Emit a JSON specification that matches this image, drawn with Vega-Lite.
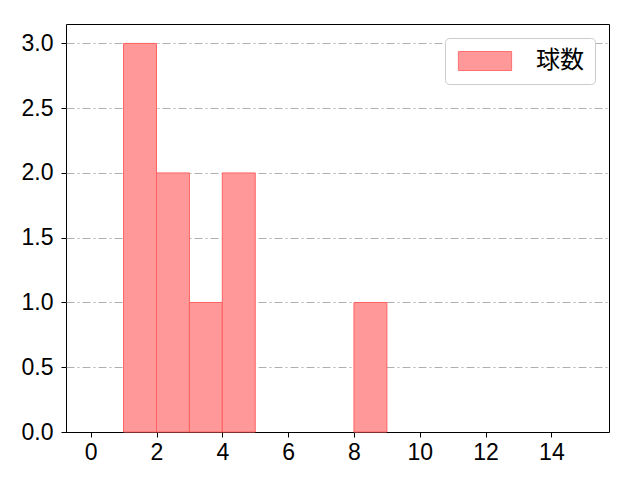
{
  "$schema": "https://vega.github.io/schema/vega-lite/v6.json",
  "width": 543,
  "height": 408,
  "autosize": "none",
  "padding": {"left": 66, "top": 24, "right": 31, "bottom": 48},
  "background": "white",
  "config": {
    "view": {"stroke": "black", "strokeWidth": 1},
    "font": "Liberation Sans",
    "axis": {
      "domain": false,
      "tickColor": "black",
      "tickSize": 5,
      "tickWidth": 1,
      "labelFont": "Liberation Sans",
      "labelFontSize": 23,
      "labelColor": "black",
      "labelPadding": 4,
      "labelFlush": false,
      "labelOverlap": false,
      "title": null
    }
  },
  "data": {
    "values": [
      {"bin_start": 1, "bin_end": 2, "count": 3, "series": "球数"},
      {"bin_start": 2, "bin_end": 3, "count": 2, "series": "球数"},
      {"bin_start": 3, "bin_end": 4, "count": 1, "series": "球数"},
      {"bin_start": 4, "bin_end": 5, "count": 2, "series": "球数"},
      {"bin_start": 8, "bin_end": 9, "count": 1, "series": "球数"}
    ]
  },
  "mark": {"type": "bar", "stroke": "#ff6060", "strokeWidth": 1},
  "encoding": {
    "x": {
      "field": "bin_start",
      "type": "quantitative",
      "scale": {"domain": [-0.75, 15.75], "nice": false, "zero": false},
      "axis": {"values": [0, 2, 4, 6, 8, 10, 12, 14], "grid": false}
    },
    "x2": {"field": "bin_end"},
    "y": {
      "field": "count",
      "type": "quantitative",
      "scale": {"domain": [0, 3.15], "nice": false},
      "axis": {
        "values": [0, 0.5, 1, 1.5, 2, 2.5, 3],
        "format": ".1f",
        "labelPadding": 8,
        "grid": true,
        "gridColor": {"condition": {"test": "datum.value === 0", "value": "black"}, "value": "#b0b0b0"},
        "gridWidth": 1,
        "gridDash": [8, 3, 2, 3]
      }
    },
    "y2": {"datum": 0},
    "fill": {
      "field": "series",
      "type": "nominal",
      "scale": {"range": ["#ff9999"]},
      "legend": {
        "title": null,
        "orient": "top-right",
        "offset": 14,
        "padding": 11,
        "fillColor": "white",
        "strokeColor": "#cccccc",
        "cornerRadius": 4,
        "symbolType": "M-2.8,-1L2.8,-1L2.8,1L-2.8,1Z",
        "symbolSize": 361,
        "symbolOffset": 17,
        "symbolStrokeColor": "#ff7070",
        "symbolStrokeWidth": 1,
        "labelFontSize": 24,
        "labelFont": "Noto Sans CJK JP",
        "labelColor": "black",
        "labelOffset": 39
      }
    }
  }
}
